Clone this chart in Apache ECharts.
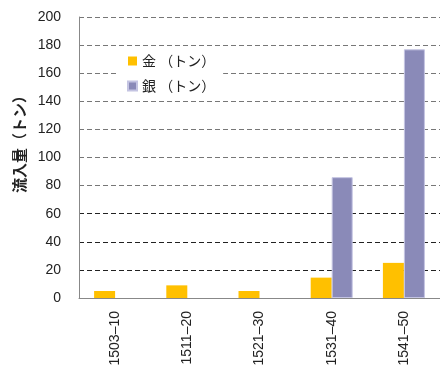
<!DOCTYPE html>
<html><head><meta charset="utf-8">
<script src="https://cdn.jsdelivr.net/npm/echarts@6/dist/echarts.min.js"></script>
<style>html,body{margin:0;padding:0;background:#fff}#c{width:440px;height:369px}</style>
</head><body><div id="c"></div>
<script>
const categories = ['1503–10', '1511–20', '1521–30', '1531–40', '1541–50'];
const goldValues = [5, 9, 5, 14.5, 25];
const silverValues = [null, null, null, 86, 177];
const seriesNames = ['金 （トン）', '銀 （トン）'];
const yAxisName = '流入量（トン）';

const chart = echarts.init(document.getElementById('c'));
chart.setOption({
  animation: false,
  grid: { left: 79, right: 0, top: 17, bottom: 71 },
  legend: {
    orient: 'vertical', left: 118, top: 48,
    padding: [6, 8, 6, 9],
    backgroundColor: '#fff',
    itemWidth: 9, itemHeight: 9, itemGap: 11,
    icon: 'rect',
    textStyle: { fontSize: 14, color: '#222', fontFamily: '"Noto Sans CJK JP", sans-serif' },
    data: seriesNames
  },
  xAxis: {
    type: 'category', data: categories,
    axisLine: { lineStyle: { color: '#888', width: 1 } },
    axisTick: { inside: true, length: 6, lineStyle: { color: '#888' } },
    axisLabel: { rotate: 90, fontSize: 14, color: '#222', margin: 13, fontFamily: 'Liberation Sans, Arial, sans-serif' }
  },
  yAxis: {
    type: 'value', min: 0, max: 200, interval: 20,
    name: yAxisName, nameLocation: 'middle', nameGap: 50, nameRotate: 90,
    nameTextStyle: { fontSize: 15, fontWeight: 'bold', color: '#222', fontFamily: '"Noto Sans CJK JP", sans-serif', padding: [0, 0, 0, 34] },
    axisLine: { show: true, lineStyle: { color: '#888', width: 1 } },
    axisTick: { show: false },
    axisLabel: { fontSize: 14, color: '#222', margin: 18, fontFamily: 'Liberation Sans, Arial, sans-serif' },
    splitLine: { show: true, lineStyle: { type: [5, 3], width: 1,
      color: ['#888', '#222', '#222', '#222', '#777', '#777', '#777', '#777', '#777', '#777', '#777'] } }
  },
  series: [
    { name: seriesNames[0], type: 'bar', data: goldValues, barWidth: 21, barGap: '0%',
      itemStyle: { color: '#FFC000' } },
    { name: seriesNames[1], type: 'bar', data: silverValues, barWidth: 21,
      itemStyle: { color: '#8A8AB8', borderColor: '#C4C4E2', borderWidth: 1 } }
  ]
});
</script></body></html>
